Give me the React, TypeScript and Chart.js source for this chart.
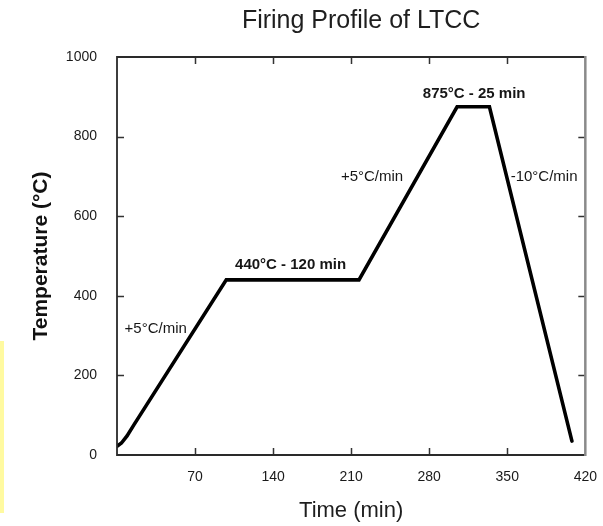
import React, { useEffect, useRef } from 'react';
import { Chart, registerables } from 'chart.js';

Chart.register(...registerables);

const chartTitle = 'Firing Profile of LTCC';
const xAxisTitle = 'Time (min)';
const yAxisTitle = 'Temperature (°C)';

const timeMin = [0, 4, 9, 15, 98, 217, 305, 334, 408];
const tempC = [22, 30, 48, 75, 440, 440, 875, 875, 35];

const xTickValues = [0, 70, 140, 210, 280, 350, 420];
const yTickValues = [0, 200, 400, 600, 800, 1000];

const annotationTexts = ['+5°C/min', '440°C - 120 min', '+5°C/min', '875°C - 25 min', '-10°C/min'];
const annotationTime = [34.7, 155.7, 228.7, 320.3, 383];
const annotationTemp = [316.6, 477, 698, 908, 698];
const annotationBold = [false, true, false, true, false];

const FONT = '"Liberation Sans", Arial, Helvetica, sans-serif';

const framePlugin = {
  id: 'frameAndNotes',
  beforeDatasetsDraw(chart: any) {
    const { ctx, chartArea, scales } = chart;
    const { left, right } = chartArea;
    const x = scales.x;
    const y = scales.y;
    ctx.save();
    ctx.fillStyle = '#161616';
    ctx.textAlign = 'center';
    ctx.textBaseline = 'middle';
    annotationTexts.forEach((t, i) => {
      ctx.font = `${annotationBold[i] ? 'bold ' : ''}15px ${FONT}`;
      ctx.fillText(t, x.getPixelForValue(annotationTime[i]), y.getPixelForValue(annotationTemp[i]));
    });
    ctx.font = `25px ${FONT}`;
    ctx.fillStyle = '#1e1e1e';
    ctx.fillText(chartTitle, (left + right) / 2 + 10, 21);
    ctx.restore();
  },
  afterDatasetsDraw(chart: any) {
    const { ctx, chartArea, scales } = chart;
    const { left, right, top, bottom } = chartArea;
    const x = scales.x;
    const y = scales.y;
    ctx.save();
    ctx.lineCap = 'butt';
    ctx.strokeStyle = '#333';
    ctx.lineWidth = 1.5;
    const tl = 7;
    ctx.beginPath();
    xTickValues.forEach((v) => {
      if (v <= x.min || v >= x.max) return;
      const px = Math.round(x.getPixelForValue(v)) + 0.5;
      ctx.moveTo(px, bottom);
      ctx.lineTo(px, bottom - tl);
      ctx.moveTo(px, top);
      ctx.lineTo(px, top + tl);
    });
    yTickValues.forEach((v) => {
      if (v <= y.min || v >= y.max) return;
      const py = Math.round(y.getPixelForValue(v)) + 0.5;
      ctx.moveTo(left, py);
      ctx.lineTo(left + tl, py);
      ctx.moveTo(right, py);
      ctx.lineTo(right - tl, py);
    });
    ctx.stroke();
    ctx.strokeStyle = '#2a2a2a';
    ctx.lineWidth = 1.8;
    ctx.beginPath();
    ctx.moveTo(right, top);
    ctx.lineTo(left, top);
    ctx.lineTo(left, bottom);
    ctx.lineTo(right, bottom);
    ctx.stroke();
    ctx.strokeStyle = '#8a8a8a';
    ctx.lineWidth = 2.5;
    ctx.beginPath();
    ctx.moveTo(right, top - 1);
    ctx.lineTo(right, bottom + 1);
    ctx.stroke();
    ctx.restore();
  },
};

export default function App() {
  const canvasRef = useRef<HTMLCanvasElement | null>(null);

  useEffect(() => {
    if (!canvasRef.current) return;
    const chart = new Chart(canvasRef.current, {
      type: 'scatter',
      data: {
        datasets: [
          {
            data: timeMin.map((t, i) => ({ x: t, y: tempC[i] })),
            showLine: true,
            borderColor: '#000',
            borderWidth: 3.6,
            pointRadius: 0,
            borderJoinStyle: 'miter',
            borderCapStyle: 'round',
            tension: 0,
          } as any,
        ],
      },
      options: {
        animation: false,
        responsive: false,
        layout: { padding: { left: 0, right: 14, top: 57, bottom: 0 } },
        plugins: {
          legend: { display: false },
          tooltip: { enabled: false },
          title: { display: false },
        },
        scales: {
          x: {
            type: 'linear',
            min: 0,
            max: 420,
            afterBuildTicks: (scale: any) => {
              scale.ticks = xTickValues.map((v) => ({ value: v }));
            },
            afterFit: (scale: any) => {
              scale.height = 71;
            },
            ticks: {
              callback: (v: any) => (v === 0 ? '' : String(v)),
              font: { family: FONT, size: 14 },
              color: '#1a1a1a',
              padding: 6,
              maxRotation: 0,
              autoSkip: false,
            },
            grid: { display: false },
            border: { display: false },
            title: {
              display: true,
              text: xAxisTitle,
              font: { family: FONT, size: 22 },
              color: '#1e1e1e',
              padding: { top: 0, bottom: 2 },
            },
          },
          y: {
            type: 'linear',
            min: 0,
            max: 1000,
            afterBuildTicks: (scale: any) => {
              scale.ticks = yTickValues.map((v) => ({ value: v }));
            },
            afterFit: (scale: any) => {
              scale.width = 117;
            },
            ticks: {
              callback: (v: any) => String(v),
              font: { family: FONT, size: 14 },
              color: '#1a1a1a',
              padding: 12,
            },
            grid: { display: false },
            border: { display: false },
            title: {
              display: true,
              text: yAxisTitle,
              font: { family: FONT, size: 21, weight: 'bold' },
              color: '#111',
              padding: { top: 29, bottom: 0 },
            },
          },
        },
      },
      plugins: [framePlugin],
    });
    return () => chart.destroy();
  }, []);

  return (
    <div style={{ position: 'absolute', left: 0, top: 0, width: 603, height: 526, background: '#fff' }}>
      <div style={{ position: 'absolute', left: 0, top: 341, width: 4, height: 172, background: '#fffaa0' }} />
      <canvas ref={canvasRef} width={603} height={526} style={{ position: 'absolute', left: 0, top: 0 }} />
    </div>
  );
}
